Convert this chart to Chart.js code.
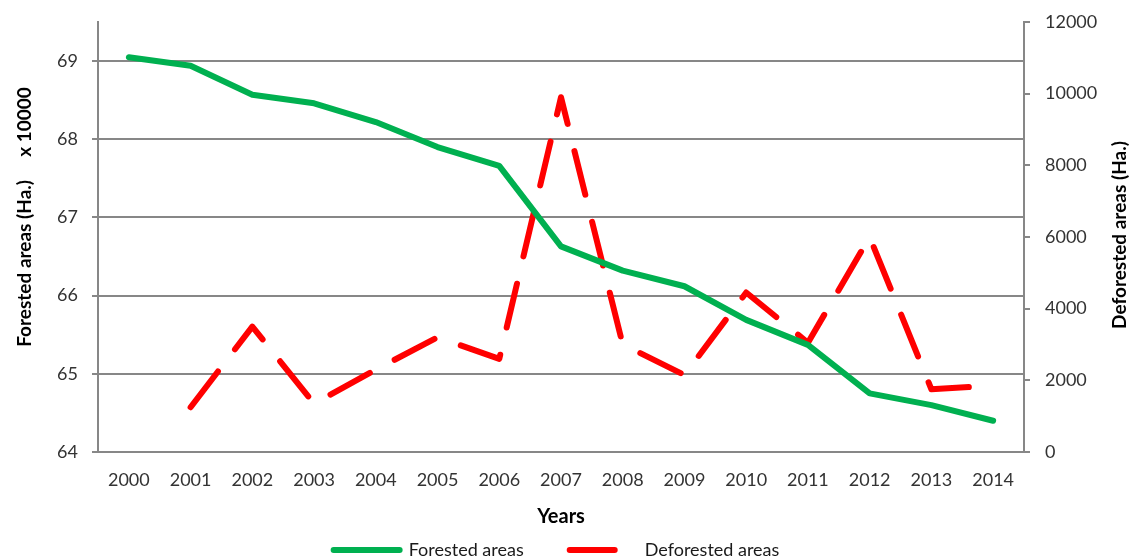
<!DOCTYPE html>
<html>
<head>
<meta charset="utf-8">
<title>Forested and deforested areas, 2000–2014</title>
<script src="https://cdn.jsdelivr.net/npm/chart.js@4.4.1/dist/chart.umd.min.js"></script>
<style>
  html, body { margin: 0; padding: 0; background: #ffffff; overflow: hidden; }
  #wrap { position: relative; width: 1137px; height: 559px; }
</style>
</head>
<body>
<div id="wrap"><canvas id="chart"></canvas></div>
<script>
// Years on the category axis
const years = ['2000', '2001', '2002', '2003', '2004', '2005', '2006', '2007',
               '2008', '2009', '2010', '2011', '2012', '2013', '2014'];

// Forested area, in units of 10 000 ha (left axis)
const forestedAreas = [69.05, 68.94, 68.57, 68.46, 68.22, 67.90, 67.66, 66.63,
                       66.32, 66.12, 65.69, 65.37, 64.75, 64.60, 64.40];

// Deforested area in ha (right axis); no value for 2000
const deforestedAreas = [null, 1250, 3500, 1350, 2300, 3200, 2600, 9900,
                         3000, 2150, 4450, 3050, 6000, 1750, 1850];

// Tick values shown on each vertical axis
const leftTickValues = [64, 65, 66, 67, 68, 69];
const rightTickValues = [0, 2000, 4000, 6000, 8000, 10000, 12000];

// Axis titles
const leftTitle = 'Forested areas (Ha.)     x 10000';
const rightTitle = 'Deforested areas (Ha.)';

const GRID = '#878787';
const FONT = 'Lato, "Open Sans", "DejaVu Sans", sans-serif';
const TICK_COLOR = '#333333';

// Vertical axis titles, both reading bottom to top
const sideTitles = {
  id: 'sideTitles',
  afterDraw(chart, args, opts) {
    const ctx = chart.ctx;
    const area = chart.chartArea;
    const midY = (area.top + area.bottom) / 2;
    ctx.save();
    ctx.font = `bold ${opts.size}px ${FONT}`;
    ctx.fillStyle = '#000000';
    ctx.textAlign = 'center';
    ctx.textBaseline = 'middle';
    [
      { text: leftTitle, x: chart.scales.yLeft.left + opts.leftInset, y: midY + opts.leftShiftY },
      { text: rightTitle, x: chart.scales.yRight.right - opts.rightInset, y: midY + opts.rightShiftY }
    ].forEach(t => {
      ctx.save();
      ctx.translate(t.x, t.y);
      ctx.rotate(-Math.PI / 2);
      ctx.fillText(t.text, 0, 0);
      ctx.restore();
    });
    ctx.restore();
  }
};

// Legend drawn under the axis title: a line sample in each series' own style, then its name
const bottomLegend = {
  id: 'bottomLegend',
  afterDraw(chart, args, opts) {
    const ctx = chart.ctx;
    const items = chart.data.datasets.map(ds => ({
      text: ds.label,
      color: ds.borderColor,
      width: ds.borderWidth,
      dash: ds.borderDash || []
    }));
    ctx.save();
    ctx.font = `${opts.size}px ${FONT}`;
    const widths = items.map(it => opts.sample + opts.textGap + ctx.measureText(it.text).width);
    const total = widths.reduce((a, b) => a + b, 0) + opts.itemGap * (items.length - 1);
    const area = chart.chartArea;
    let x = (area.left + area.right) / 2 - total / 2 + opts.shift;
    const y = chart.scales.x.bottom + opts.offsetY;
    items.forEach((it, i) => {
      const capPad = it.width / 2;
      ctx.beginPath();
      ctx.strokeStyle = it.color;
      ctx.lineWidth = it.width;
      ctx.lineCap = 'round';
      ctx.setLineDash(it.dash);
      ctx.moveTo(x + capPad, y);
      ctx.lineTo(x + opts.sample - capPad, y);
      ctx.stroke();
      ctx.setLineDash([]);
      ctx.fillStyle = opts.color;
      ctx.textAlign = 'left';
      ctx.textBaseline = 'middle';
      ctx.fillText(it.text, x + opts.sample + opts.textGap, y);
      x += widths[i] + opts.itemGap;
    });
    ctx.restore();
  }
};

// Fixed width for a vertical axis; its end labels may overhang the plot area
const fixVerticalAxis = width => scale => {
  scale.width = width;
  scale.paddingTop = 0;
  scale.paddingBottom = 0;
};

new Chart(document.getElementById('chart'), {
  type: 'line',
  data: {
    labels: years,
    datasets: [
      {
        label: 'Forested areas',
        data: forestedAreas,
        yAxisID: 'yLeft',
        borderColor: '#00b050',
        backgroundColor: '#00b050',
        borderWidth: 6,
        borderCapStyle: 'round',
        borderJoinStyle: 'round',
        pointRadius: 0,
        tension: 0
      },
      {
        label: 'Deforested areas',
        data: deforestedAreas,
        yAxisID: 'yRight',
        borderColor: '#ff0000',
        backgroundColor: '#ff0000',
        borderWidth: 6,
        borderDash: [45, 28],
        borderCapStyle: 'round',
        borderJoinStyle: 'round',
        pointRadius: 0,
        tension: 0,
        spanGaps: false
      }
    ]
  },
  options: {
    responsive: true,
    maintainAspectRatio: false,
    animation: false,
    devicePixelRatio: 1,
    layout: { padding: { top: 22, left: 0, right: 0, bottom: 30 } },
    plugins: {
      legend: { display: false },
      tooltip: { enabled: false },
      sideTitles: { size: 19, leftInset: 25, leftShiftY: -20, rightInset: 17, rightShiftY: -2 },
      bottomLegend: { size: 18, sample: 72, textGap: 6, itemGap: 43, shift: -6, offsetY: 21, color: '#1a1a1a' }
    },
    scales: {
      x: {
        offset: true,
        afterFit: scale => { scale.height = 77; },
        grid: { display: false, drawTicks: false },
        border: { display: true, color: GRID, width: 2 },
        ticks: { color: TICK_COLOR, padding: 17, font: { family: FONT, size: 18 }, maxRotation: 0, autoSkip: false },
        title: {
          display: true, text: 'Years', color: '#000000',
          font: { family: FONT, size: 20, weight: 'bold' },
          padding: { top: 10, bottom: 0 }
        }
      },
      yLeft: {
        position: 'left',
        min: 64,
        max: 69.5,
        afterBuildTicks: scale => { scale.ticks = leftTickValues.map(v => ({ value: v })); },
        afterFit: fixVerticalAxis(98),
        grid: { color: GRID, lineWidth: 2, tickLength: 6, drawTicks: true },
        border: { display: true, color: GRID, width: 2 },
        ticks: { color: TICK_COLOR, padding: 14, font: { family: FONT, size: 18 } }
      },
      yRight: {
        position: 'right',
        min: 0,
        max: 12000,
        afterBuildTicks: scale => { scale.ticks = rightTickValues.map(v => ({ value: v })); },
        afterFit: fixVerticalAxis(113),
        grid: { drawOnChartArea: false, color: GRID, lineWidth: 2, tickLength: 6 },
        border: { display: true, color: GRID, width: 2 },
        ticks: {
          color: TICK_COLOR, padding: 15, font: { family: FONT, size: 18 },
          callback: value => String(value)
        }
      }
    }
  },
  plugins: [sideTitles, bottomLegend]
});
</script>
</body>
</html>
